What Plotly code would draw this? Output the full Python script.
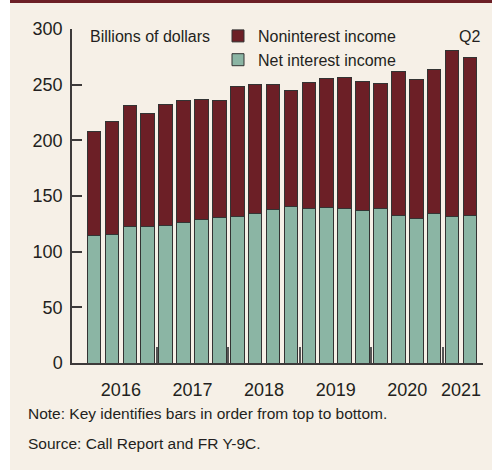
import plotly.graph_objects as go

quarters = ["2016Q1", "2016Q2", "2016Q3", "2016Q4",
            "2017Q1", "2017Q2", "2017Q3", "2017Q4",
            "2018Q1", "2018Q2", "2018Q3", "2018Q4",
            "2019Q1", "2019Q2", "2019Q3", "2019Q4",
            "2020Q1", "2020Q2", "2020Q3", "2020Q4",
            "2021Q1", "2021Q2"]
net_interest = [114.7, 115.3, 122.8, 122.2, 123.1, 126.1, 129.1, 130.6,
                131.2, 134.5, 137.8, 140.2, 138.7, 139.6, 138.7, 137.2,
                138.4, 132.7, 129.7, 133.9, 131.8, 132.1]
totals = [207.6, 216.6, 231.6, 223.8, 232.5, 235.5, 237.0, 235.8,
          248.7, 250.2, 250.5, 245.1, 251.7, 255.9, 256.2, 252.9,
          250.8, 262.2, 255.0, 263.7, 281.1, 274.5]
noninterest = [round(t - n, 1) for t, n in zip(totals, net_interest)]

y_ticks = [0, 50, 100, 150, 200, 250, 300]

RED = "#6c1f26"
GREEN = "#8bb5a4"
CREAM = "#f6f0e7"
INK = "#231f20"
AXIS = "#3d3a3a"
FONT = "Liberation Sans, Arial, sans-serif"

xs = list(range(len(quarters)))
years = [q[:4] for q in quarters]
year_labels = []
year_pos = []
for y in dict.fromkeys(years):
    idx = [i for i, yy in enumerate(years) if yy == y]
    year_labels.append(y)
    year_pos.append(sum(idx) / len(idx))
boundaries = [i - 0.5 for i in range(1, len(years)) if years[i] != years[i - 1]]

fig = go.Figure()
fig.add_trace(go.Bar(x=xs, y=net_interest, name="Net interest income",
                     marker=dict(color=GREEN, line=dict(color="#333333", width=1)),
                     width=0.76))
fig.add_trace(go.Bar(x=xs, y=noninterest, name="Noninterest income",
                     marker=dict(color=RED, line=dict(color="#333333", width=1)),
                     width=0.76))

W, H = 492, 470
L, R, T, B = 72, 9, 29, 107
pw, ph = W - L - R, H - T - B

def px_x(p):
    return (p - L) / pw

def px_y(p):
    return (H - B - p) / ph

fig.update_layout(
    width=W, height=H,
    margin=dict(l=L, r=R, t=T, b=B),
    barmode="stack",
    paper_bgcolor=CREAM,
    plot_bgcolor=CREAM,
    font=dict(family=FONT, size=16, color=INK),
    showlegend=True,
    legend=dict(x=px_x(218), y=px_y(19), xanchor="left", yanchor="top",
                traceorder="reversed", bgcolor="rgba(0,0,0,0)",
                font=dict(family=FONT, size=16, color=INK),
                tracegroupgap=0, itemwidth=30),
    xaxis=dict(range=[-1.23, 21.73], showgrid=False, zeroline=False,
               showline=True, linecolor=AXIS, linewidth=1.5,
               tickmode="array", tickvals=year_pos, ticktext=year_labels,
               ticks="", ticklabelstandoff=10,
               tickfont=dict(family=FONT, size=18, color=INK),
               minor=dict(tickmode="array", tickvals=boundaries, ticks="inside",
                          ticklen=16, tickwidth=1.5, tickcolor="#555555",
                          showgrid=False)),
    yaxis=dict(range=[0, 300], showgrid=False, zeroline=False,
               showline=True, linecolor=AXIS, linewidth=1.5,
               tickmode="array", tickvals=y_ticks,
               ticks="inside", ticklen=10, tickwidth=1.5, tickcolor=AXIS,
               ticklabelstandoff=4,
               tickfont=dict(family=FONT, size=18, color=INK)),
    shapes=[
        dict(type="rect", xref="paper", yref="paper",
             x0=px_x(0), x1=px_x(10), y0=px_y(H), y1=px_y(0),
             fillcolor="white", line=dict(width=0), layer="above"),
        dict(type="rect", xref="paper", yref="paper",
             x0=px_x(10), x1=px_x(W), y0=px_y(3), y1=px_y(0),
             fillcolor=RED, line=dict(width=0), layer="above"),
    ],
    annotations=[
        dict(text="Billions of dollars", xref="paper", yref="paper",
             x=px_x(88), y=px_y(36), xanchor="left", yanchor="middle",
             showarrow=False, font=dict(family=FONT, size=16, color=INK)),
        dict(text="Q2", xref="paper", yref="paper",
             x=px_x(469), y=px_y(36), xanchor="center", yanchor="middle",
             showarrow=False, font=dict(family=FONT, size=16, color=INK)),
        dict(text="Note: Key identifies bars in order from top to bottom.",
             xref="paper", yref="paper", x=px_x(26), y=px_y(413),
             xanchor="left", yanchor="middle", showarrow=False,
             font=dict(family=FONT, size=15.5, color=INK)),
        dict(text="Source: Call Report and FR Y-9C.",
             xref="paper", yref="paper", x=px_x(26), y=px_y(443),
             xanchor="left", yanchor="middle", showarrow=False,
             font=dict(family=FONT, size=15.5, color=INK)),
    ],
)

fig.write_html("out.html", config={"displayModeBar": False},
               post_script="document.body.style.margin='0';document.body.style.overflow='hidden';")
